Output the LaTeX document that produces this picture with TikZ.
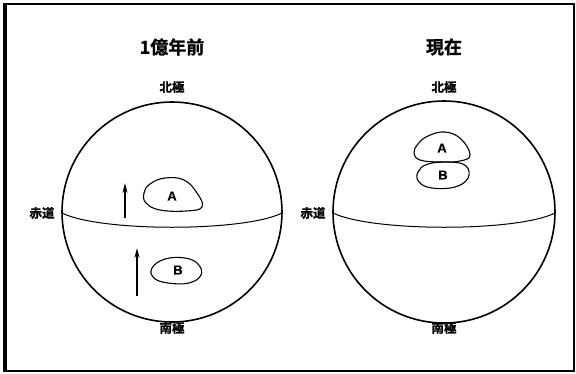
\documentclass[tikz,border=0pt]{standalone}
\usepackage{fontspec}
\newfontfamily\cjk{Noto Sans CJK JP}[BoldFont={Noto Sans CJK JP Bold},BoldFeatures={FakeBold=1.2}]
\newfontfamily\latn{Liberation Sans}[BoldFeatures={FakeBold=0.6}]
\usetikzlibrary{arrows.meta}
\begin{document}
\begin{tikzpicture}[x=1pt,y=-1pt,
  globe/.style={line width=1.6pt},
  blob/.style={line width=1.1pt},
  eq/.style={line width=1pt},
  title/.style={font=\cjk\bfseries\fontsize{18}{20}\selectfont},
  lab/.style={font=\cjk\bfseries\fontsize{12.5}{14}\selectfont},
  letter/.style={font=\latn\bfseries\fontsize{13}{14}\selectfont},
  mv/.style={line width=1.2pt,-{Stealth[length=10pt,width=5pt]}}]
\useasboundingbox (0,0) rectangle (576,373);
\draw[line width=1.2pt] (4,4) rectangle (574,371);
\draw[line width=3pt] (5,4) -- (5,371);

% left globe
\node[title] (t1) at (172,47) {1億年前};
\draw[globe] (172,212) circle[radius=110pt];
\draw[eq] (62,213) .. controls (100,232) and (244,232) .. (282,213);
\node[lab] (n1) at (172,87) {北極};
\node[lab] (s1) at (172,328) {南極};
\node[lab] (e1) at (42,213) {赤道};
\draw[blob] plot[smooth cycle, tension=0.7] coordinates {(150,184) (165,178) (184,180) (197,193) (202,207) (186,211) (160,210) (146,203) (144,193)};
\node[letter] (a1) at (172,196) {A};
\draw[blob] plot[smooth cycle, tension=0.7] coordinates {(152,268) (165,259) (185,258) (198,264) (201,275) (189,283) (168,283) (154,278)};
\node[letter] (b1) at (178,270) {B};
\coordinate (ar1s) at (125,218);
\coordinate (ar1e) at (125,183);
\draw[mv] (ar1s) -- (ar1e);
\coordinate (ar2s) at (137,296);
\coordinate (ar2e) at (137,248);
\draw[mv] (ar2s) -- (ar2e);

% right globe
\node[title] (t2) at (444,47) {現在};
\draw[globe] (444,212) circle[radius=111pt];
\draw[eq] (333,213) .. controls (372,232) and (517,232) .. (555,213);
\node[lab] (n2) at (444,87) {北極};
\node[lab] (s2) at (444,328) {南極};
\node[lab] (e2) at (313,213) {赤道};
\draw[blob] plot[smooth cycle, tension=0.7] coordinates {(418,144) (428,136) (445,132) (461,139) (470,155) (460,161) (440,162) (420,160) (414,153)};
\node[letter] (a2) at (442,148) {A};
\draw[blob] plot[smooth cycle, tension=0.7] coordinates {(418,172) (428,164) (450,162) (466,166) (468,178) (455,187) (432,188) (419,182)};
\node[letter] (b2) at (443,175) {B};
\end{tikzpicture}
\end{document}
